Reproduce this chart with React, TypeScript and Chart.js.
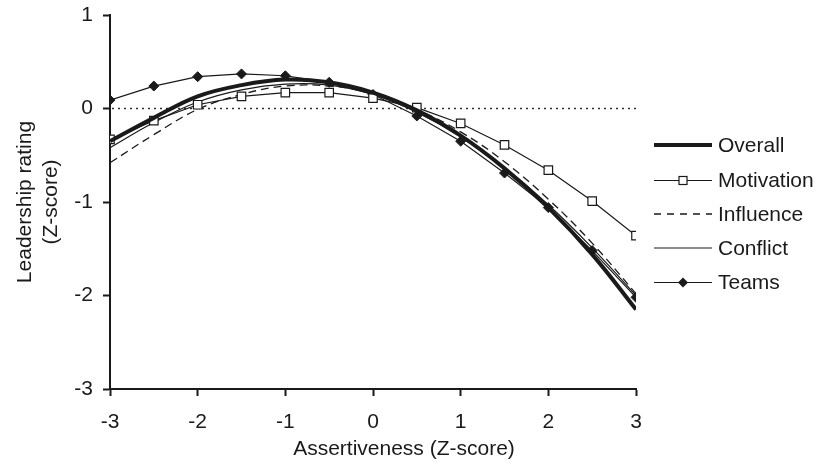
import React, { useEffect, useRef } from 'react';
import { Chart, registerables } from 'chart.js';

Chart.register(...registerables);

// ---- data ----
const xValues = [-3, -2.5, -2, -1.5, -1, -0.5, 0, 0.5, 1, 1.5, 2, 2.5, 3];
const overall = [-0.35, -0.1, 0.13, 0.25, 0.31, 0.28, 0.17, -0.02, -0.29, -0.64, -1.06, -1.56, -2.15];
const motivation = [-0.33, -0.13, 0.04, 0.13, 0.17, 0.17, 0.11, 0.01, -0.16, -0.39, -0.66, -0.99, -1.36];
const influence = [-0.58, -0.28, -0.01, 0.15, 0.24, 0.24, 0.16, -0.01, -0.25, -0.57, -0.97, -1.44, -1.98];
const conflict = [-0.42, -0.15, 0.07, 0.2, 0.26, 0.25, 0.15, -0.04, -0.3, -0.63, -1.03, -1.49, -2.0];
const teams = [0.09, 0.24, 0.34, 0.37, 0.35, 0.28, 0.15, -0.08, -0.35, -0.69, -1.06, -1.52, -2.02];
const seriesNames = ['Overall', 'Motivation', 'Influence', 'Conflict', 'Teams'];
const xRange = [-3, 3];
const yRange = [-3, 1];
const tickStep = 1;
const xTitle = 'Assertiveness (Z-score)';
const yTitle = ['Leadership rating', '(Z-score)'];

const FONT = '"Liberation Sans", Arial, Helvetica, sans-serif';
const FONT_SIZE = 21;
const INK = '#1a1a1a';

const toPoints = (ys: number[]) => ys.map((y, i) => ({ x: xValues[i], y }));

const overlayPlugin = {
  id: 'overlay',
  beforeDatasetsDraw(chart: any) {
    const { ctx, chartArea, scales } = chart;
    const y0 = scales.y.getPixelForValue(0);
    ctx.save();
    ctx.strokeStyle = '#333';
    ctx.lineWidth = 1.5;
    ctx.setLineDash([2, 4]);
    ctx.beginPath();
    ctx.moveTo(chartArea.left + 2, y0);
    ctx.lineTo(chartArea.right, y0);
    ctx.stroke();
    ctx.restore();
  },
  afterDraw(chart: any) {
    const { ctx, chartArea } = chart;
    ctx.save();
    ctx.fillStyle = INK;
    ctx.font = `${FONT_SIZE}px ${FONT}`;
    ctx.textAlign = 'center';
    ctx.textBaseline = 'middle';
    // x title
    ctx.fillText(xTitle, 404, 449);
    // y title
    const cy = (chartArea.top + chartArea.bottom) / 2;
    ctx.save();
    ctx.translate(25, cy);
    ctx.rotate(-Math.PI / 2);
    ctx.fillText(yTitle[0], 0, 0);
    ctx.restore();
    ctx.save();
    ctx.translate(51, cy);
    ctx.rotate(-Math.PI / 2);
    ctx.fillText(yTitle[1], 0, 0);
    ctx.restore();

    // legend
    const x1 = chartArea.right + 18;
    const x2 = chartArea.right + 76;
    const rows = [145, 180.5, 214, 248, 282.5];
    chart.data.datasets.forEach((ds: any, i: number) => {
      const y = rows[i];
      ctx.save();
      ctx.strokeStyle = ds.borderColor;
      ctx.lineWidth = ds.borderWidth;
      ctx.setLineDash(ds.legendDash || []);
      ctx.beginPath();
      ctx.moveTo(x1, y);
      ctx.lineTo(x2, y);
      ctx.stroke();
      ctx.setLineDash([]);
      const mx = (x1 + x2) / 2;
      if (ds.pointStyle === 'rect' && ds.pointRadius > 0) {
        const s = 4;
        ctx.fillStyle = '#fff';
        ctx.lineWidth = 1.2;
        ctx.fillRect(mx - s, y - s, 2 * s, 2 * s);
        ctx.strokeRect(mx - s, y - s, 2 * s, 2 * s);
      } else if (ds.pointStyle === 'rectRot' && ds.pointRadius > 0) {
        const r = 5;
        ctx.fillStyle = INK;
        ctx.beginPath();
        ctx.moveTo(mx - r, y);
        ctx.lineTo(mx, y - r);
        ctx.lineTo(mx + r, y);
        ctx.lineTo(mx, y + r);
        ctx.closePath();
        ctx.fill();
      }
      ctx.fillStyle = INK;
      ctx.font = `${FONT_SIZE}px ${FONT}`;
      ctx.textAlign = 'left';
      ctx.textBaseline = 'middle';
      ctx.fillText(ds.label, x2 + 6, y + 1);
      ctx.restore();
    });
    ctx.restore();
  },
};

export default function App() {
  const ref = useRef<HTMLCanvasElement | null>(null);

  useEffect(() => {
    if (!ref.current) return;
    const chart = new Chart(ref.current, {
      type: 'line',
      data: {
        datasets: [
          {
            label: seriesNames[0],
            data: toPoints(overall),
            borderColor: INK,
            borderWidth: 4,
            pointRadius: 0,
            tension: 0.4,
            order: 0,
          } as any,
          {
            label: seriesNames[1],
            data: toPoints(motivation),
            borderColor: INK,
            borderWidth: 1.2,
            pointStyle: 'rect',
            pointRadius: 6,
            pointBackgroundColor: '#fff',
            pointBorderColor: INK,
            pointBorderWidth: 1.2,
            tension: 0,
            order: 1,
          },
          {
            label: seriesNames[2],
            data: toPoints(influence),
            borderColor: INK,
            borderWidth: 1.3,
            borderDash: [8, 5],
            legendDash: [7, 6],
            pointRadius: 0,
            tension: 0.4,
            order: 2,
          },
          {
            label: seriesNames[3],
            data: toPoints(conflict),
            borderColor: INK,
            borderWidth: 1.2,
            pointRadius: 0,
            tension: 0.4,
            order: 3,
          },
          {
            label: seriesNames[4],
            data: toPoints(teams),
            borderColor: INK,
            borderWidth: 1.2,
            pointStyle: 'rectRot',
            pointRadius: 5,
            pointBackgroundColor: INK,
            pointBorderColor: INK,
            pointBorderWidth: 1,
            tension: 0,
            order: 4,
          },
        ],
      },
      options: {
        responsive: true,
        maintainAspectRatio: false,
        animation: false,
        layout: { padding: { left: 0, right: 183, top: 15, bottom: 0 } },
        plugins: {
          legend: { display: false },
          tooltip: { enabled: false },
          title: { display: false },
        },
        scales: {
          x: {
            type: 'linear',
            min: xRange[0],
            max: xRange[1],
            ticks: {
              stepSize: tickStep,
              color: INK,
              font: { family: FONT, size: FONT_SIZE },
              padding: 14,
              maxRotation: 0,
            },
            grid: {
              drawOnChartArea: false,
              drawTicks: true,
              tickLength: 7,
              tickWidth: 2,
              tickColor: INK,
              color: INK,
            },
            border: { display: true, color: INK, width: 2 },
            afterFit(scale: any) {
              scale.height = 80;
              scale.paddingLeft = 0;
              scale.paddingRight = 0;
            },
          },
          y: {
            type: 'linear',
            min: yRange[0],
            max: yRange[1],
            ticks: {
              stepSize: tickStep,
              color: INK,
              font: { family: FONT, size: FONT_SIZE },
              padding: 10,
            },
            grid: {
              drawOnChartArea: false,
              drawTicks: true,
              tickLength: 7,
              tickWidth: 2,
              tickColor: INK,
              color: INK,
            },
            border: { display: true, color: INK, width: 2 },
            afterFit(scale: any) {
              scale.width = 110;
              scale.paddingTop = 0;
              scale.paddingBottom = 0;
            },
          },
        },
      },
      plugins: [overlayPlugin],
    });
    return () => chart.destroy();
  }, []);

  return (
    <div style={{ position: 'fixed', left: 0, top: 0, width: 819, height: 469, background: '#fff' }}>
      <canvas ref={ref} />
    </div>
  );
}
